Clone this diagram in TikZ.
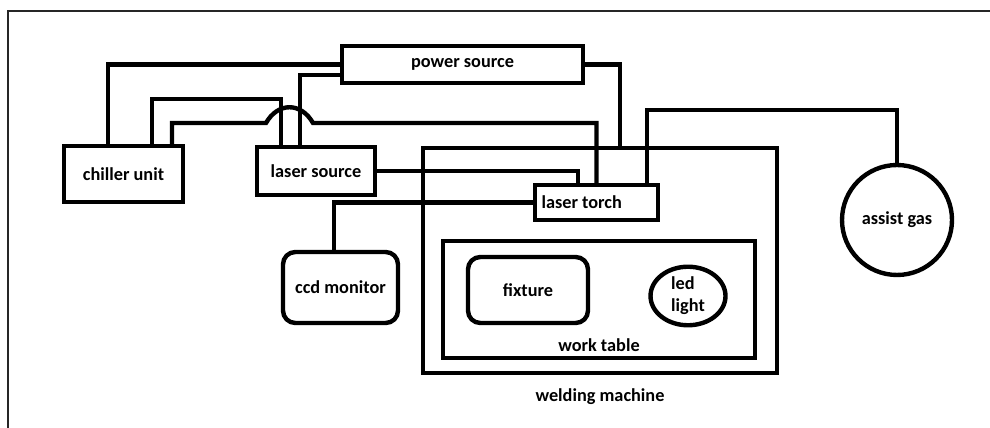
\documentclass[tikz,border=0pt]{standalone}
\usepackage{fontspec}
\setmainfont{Carlito}
\usepackage{tikz}
\usetikzlibrary{positioning,shapes.geometric}

\begin{document}
\begin{tikzpicture}[
  x=0.02cm, y=-0.02cm,
  every node/.style={font=\fontsize{10.4}{12.5}\selectfont\bfseries},
  box/.style={draw,line width=2.5pt,align=center},
  rbox/.style={box,rounded corners=7pt},
  wire/.style={line width=2.5pt},
  frame/.style={line width=1.2pt,black!85}
]
  \useasboundingbox (0,0) rectangle (990,428);
  \draw[frame] (8,428) -- (8,11) -- (990,11);

  \node[box,minimum width=2.38cm,minimum height=1.12cm] (chiller) at (123.5,174) {chiller unit};
  \node[box,minimum width=4.82cm,minimum height=0.74cm] (power) at (462.5,64.5) {power source};
  \node[box,minimum width=2.36cm,minimum height=0.96cm] (lsrc) at (316,171) {laser source};
  \node[box,minimum width=7.08cm,minimum height=4.5cm] (weld) at (600,260.5) {};
  \node[box,minimum width=2.46cm,minimum height=0.7cm,text width=2.2cm,align=flush left] (torch) at (596.5,202.5) {laser torch};
  \node[rbox,minimum width=2.3cm,minimum height=1.42cm] (ccd) at (340.5,287.5) {ccd monitor};
  \node[box,minimum width=6.24cm,minimum height=2.34cm] (table) at (599,299.5) {};
  \node[rbox,minimum width=2.4cm,minimum height=1.32cm] (fixture) at (528,290) {fixture};
  \node[box,ellipse,minimum width=1.5cm,minimum height=1.16cm,inner sep=1pt,align=left] (led) at (688,296) {led\\light};
  \node[box,circle,minimum size=2.2cm] (gas) at (897,220) {assist gas};
  \node (tablelbl) at ([yshift=0.3cm]table.south) {work table};
  \node[below=0.14cm of weld] (weldlbl) {welding machine};

  \draw[wire] ([xshift=-0.31cm]chiller.north) |- (power.west);
  \draw[wire] ([xshift=0.57cm]chiller.north) -- ++(0,-45) -| ([xshift=-0.7cm]lsrc.north);
  \draw[wire] ([xshift=0.97cm]chiller.north) |- (266,123)
    .. controls (278,102) and (301,102) .. (313,123) -| (torch.north);
  \draw[wire] ([xshift=-0.32cm]lsrc.north) |- ([yshift=-0.21cm]power.west);
  \draw[wire] (power.east) -| ([xshift=0.4cm]weld.north);
  \draw[wire] (lsrc.east) -| ([xshift=-0.37cm]torch.north);
  \draw[wire] (torch.west) -| ([xshift=-0.13cm]ccd.north);
  \draw[wire] ([xshift=1.01cm]torch.north) -- ++(0,-73) -| (gas.north);
\end{tikzpicture}
\end{document}
